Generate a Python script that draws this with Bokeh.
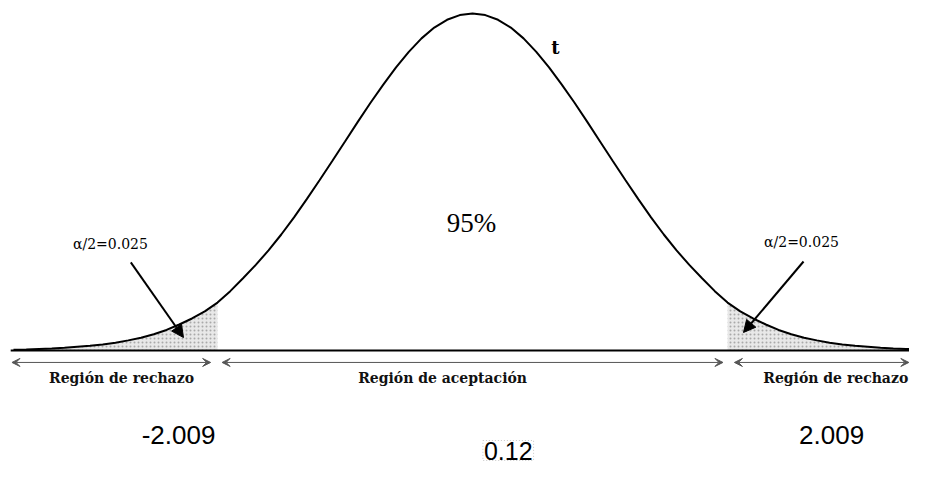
from bokeh.plotting import figure
from bokeh.models import Arrow, VeeHead, NormalHead, Label, Range1d
from bokeh.embed import file_html
from bokeh.resources import INLINE

# t values and density
t_vals = [-3.6, -3.5, -3.4, -3.3, -3.2, -3.1, -3.0, -2.9, -2.8, -2.7, -2.6, -2.5, -2.4, -2.3,
          -2.2, -2.1, -2.0, -1.9, -1.8, -1.7, -1.6, -1.5, -1.4, -1.3, -1.2, -1.1, -1.0, -0.9,
          -0.8, -0.7, -0.6, -0.5, -0.4, -0.3, -0.2, -0.1, 0.0, 0.1, 0.2, 0.3, 0.4, 0.5, 0.6,
          0.7, 0.8, 0.9, 1.0, 1.1, 1.2, 1.3, 1.4, 1.5, 1.6, 1.7, 1.8, 1.9, 2.0, 2.1, 2.2, 2.3,
          2.4, 2.5, 2.6, 2.7, 2.8, 2.9, 3.0, 3.1, 3.2, 3.3, 3.4, 3.5, 3.6]
density = [0.0008, 0.0012, 0.0018, 0.0024, 0.0032, 0.0044, 0.0056, 0.0071, 0.0091, 0.0119,
           0.0151, 0.0191, 0.0242, 0.0306, 0.0377, 0.0461, 0.0564, 0.0699, 0.0850, 0.1008,
           0.1179, 0.1366, 0.1568, 0.1783, 0.2005, 0.2231, 0.2461, 0.2692, 0.2918, 0.3132,
           0.3335, 0.3517, 0.3676, 0.3803, 0.3895, 0.3950, 0.3970, 0.3950, 0.3895, 0.3803,
           0.3676, 0.3517, 0.3335, 0.3132, 0.2918, 0.2692, 0.2461, 0.2231, 0.2005, 0.1783,
           0.1568, 0.1366, 0.1179, 0.1008, 0.0850, 0.0699, 0.0564, 0.0461, 0.0377, 0.0306,
           0.0242, 0.0191, 0.0151, 0.0119, 0.0091, 0.0071, 0.0056, 0.0044, 0.0032, 0.0024,
           0.0018, 0.0012, 0.0008]
t_crit = 2.009
alpha_half = "α/2=0.025"
center_label = "95%"
crit_labels = ["-2.009", "2.009"]
stat_value = "0.12"
region_labels = ["Región de rechazo", "Región de aceptación", "Región de rechazo"]

X0, X1 = -3.702, 3.427
Y0, Y1 = -0.139, 0.4122

p = figure(width=909, height=468, x_range=Range1d(X0, X1), y_range=Range1d(Y0, Y1),
           x_axis_type=None, y_axis_type=None, toolbar_location=None,
           output_backend="svg", min_border=0)
p.grid.visible = False
p.outline_line_color = None
p.background_fill_color = "white"

# shaded tails
lt = [t for t in t_vals if t <= -t_crit + 0.01]
ld = [d for t, d in zip(t_vals, density) if t <= -t_crit + 0.01]
rt = [t for t in t_vals if t >= t_crit - 0.01]
rd = [d for t, d in zip(t_vals, density) if t >= t_crit - 0.01]
for xs, ys in ((lt, ld), (rt, rd)):
    p.varea(x=xs, y1=[0] * len(xs), y2=ys, fill_color="#e8e8e8",
            hatch_pattern="dot", hatch_color="#9a9a9a", hatch_scale=4, hatch_alpha=0.8)

# curve
p.line(t_vals, density, line_color="black", line_width=2)

# baseline
p.line([X0 + 0.08, X1], [0, 0], line_color="black", line_width=2)

# region arrows
ay = -0.0141
gap = 0.045
spans = [(X0 + 0.09, -t_crit - gap), (-t_crit + gap, t_crit - gap), (t_crit + gap, X1 - 0.005)]
for a, b in spans:
    p.add_layout(Arrow(x_start=a, y_start=ay, x_end=b, y_end=ay, line_color="#555555",
                       line_width=1,
                       start=VeeHead(size=8, line_color="#555555", line_width=1, fill_color="#555555"),
                       end=VeeHead(size=8, line_color="#555555", line_width=1, fill_color="#555555")))

region_y = -0.032
p.add_layout(Label(x=-2.753, y=region_y, text=region_labels[0], text_align="center",
                   text_baseline="middle", text_font="DejaVu Serif", text_font_size="14px",
                   text_font_style="bold", text_color="#111111"))
p.add_layout(Label(x=-0.235, y=region_y, text=region_labels[1], text_align="center",
                   text_baseline="middle", text_font="DejaVu Serif", text_font_size="14px",
                   text_font_style="bold", text_color="#111111"))
p.add_layout(Label(x=X1 - 0.01, y=region_y, text=region_labels[2], text_align="right",
                   text_baseline="middle", text_font="DejaVu Serif", text_font_size="14px",
                   text_font_style="bold", text_color="#111111"))

# 95% and t
p.add_layout(Label(x=-0.008, y=0.1496, text=center_label, text_align="center", text_baseline="middle",
                   text_font="Liberation Serif", text_font_size="27px", text_color="black"))
p.add_layout(Label(x=0.65, y=0.357, text="t", text_align="center", text_baseline="middle",
                   text_font="DejaVu Serif", text_font_size="18px", text_font_style="bold",
                   text_color="black"))

# alpha labels
p.add_layout(Label(x=-2.84, y=0.1260, text=alpha_half, text_align="center", text_baseline="middle",
                   text_font="DejaVu Serif", text_font_size="14px", text_color="black"))
p.add_layout(Label(x=2.58, y=0.1272, text=alpha_half, text_align="center", text_baseline="middle",
                   text_font="DejaVu Serif", text_font_size="14px", text_color="black"))

# pointer arrows
p.add_layout(Arrow(x_start=-2.68, y_start=0.1037, x_end=-2.267, y_end=0.0153, line_color="black",
                   line_width=2, end=NormalHead(size=12, fill_color="black", line_color="black")))
p.add_layout(Arrow(x_start=2.596, y_start=0.1048, x_end=2.125, y_end=0.0212, line_color="black",
                   line_width=2, end=NormalHead(size=12, fill_color="black", line_color="black")))

# critical values
p.add_layout(Label(x=-2.306, y=-0.0995, text=crit_labels[0], text_align="center", text_baseline="middle",
                   text_font="Liberation Sans", text_font_size="26px", text_color="black"))
p.add_layout(Label(x=2.816, y=-0.0995, text=crit_labels[1], text_align="center", text_baseline="middle",
                   text_font="Liberation Sans", text_font_size="26px", text_color="black"))
p.add_layout(Label(x=0.28, y=-0.1178, text=stat_value, text_align="center", text_baseline="middle",
                   text_font="Liberation Sans", text_font_size="25px", text_color="black",
                   padding=1, border_line_color="#c8c8c8", border_line_dash="1 2",
                   border_line_width=1))

open("out.html", "w").write(file_html(p, INLINE))
